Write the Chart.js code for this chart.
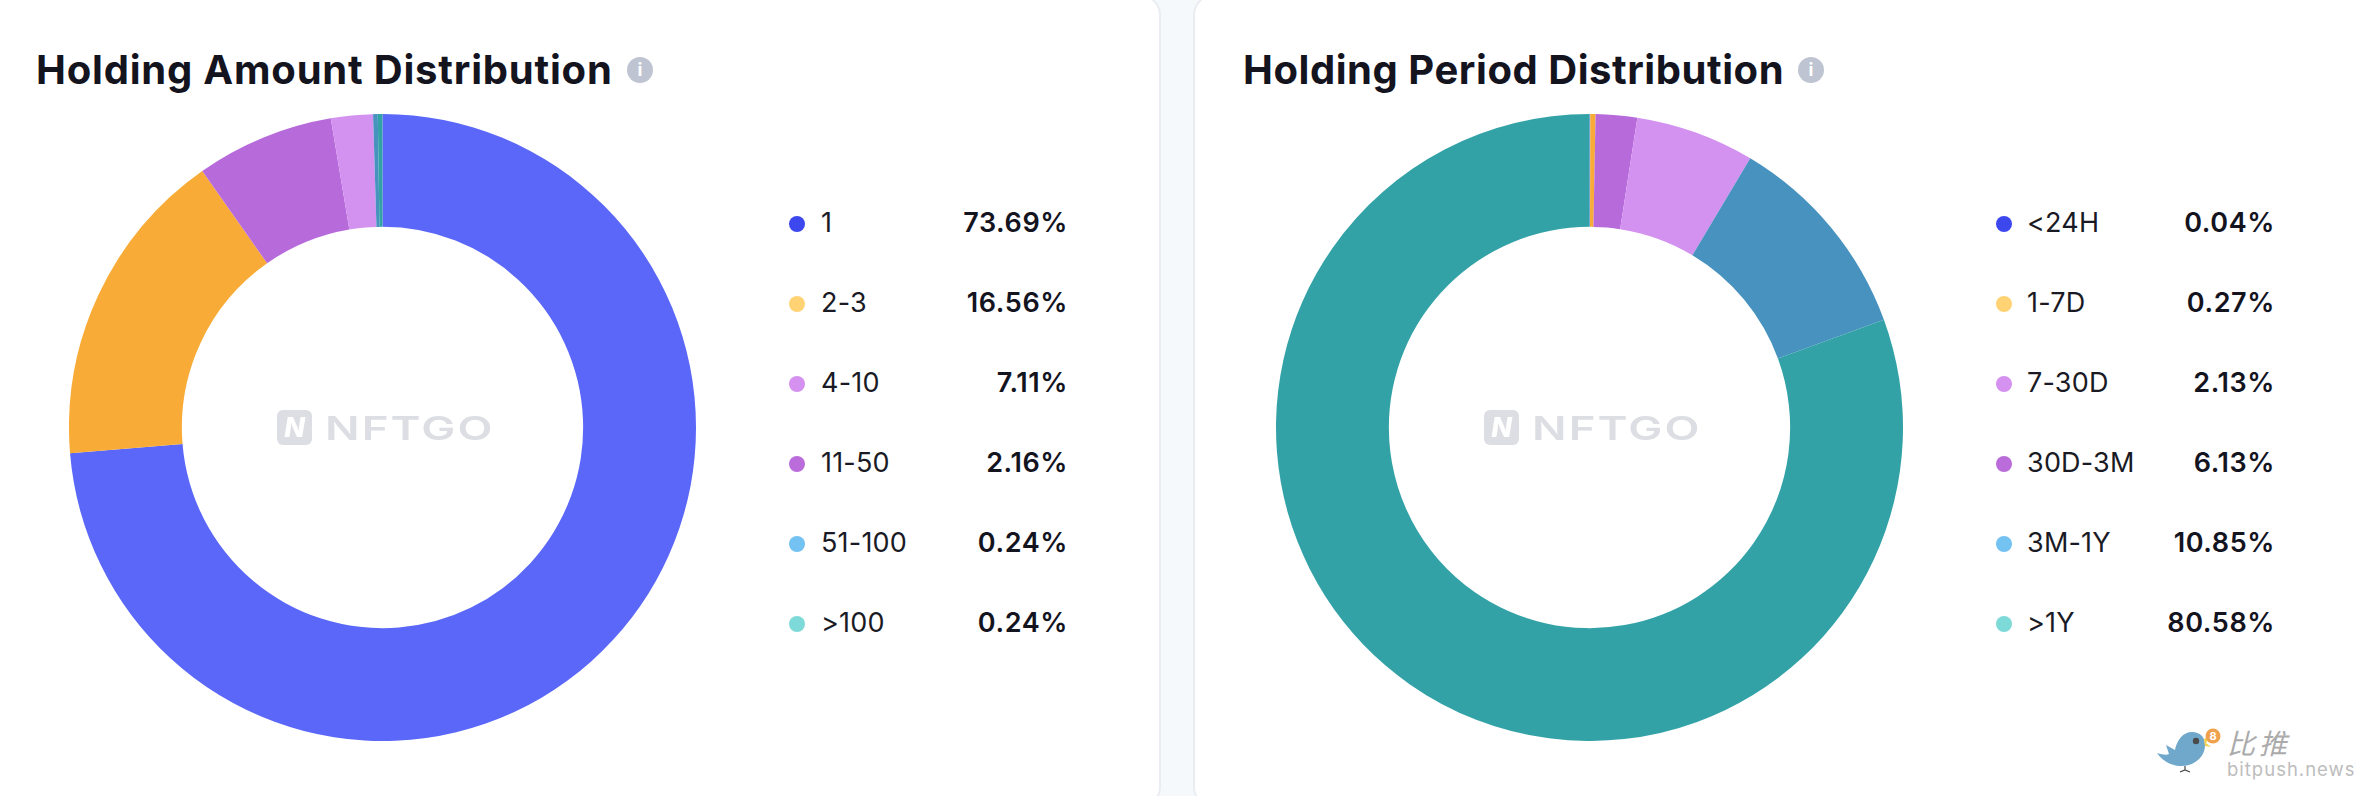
<!DOCTYPE html>
<html>
<head>
<meta charset="utf-8">
<script src="https://cdn.jsdelivr.net/npm/chart.js@4/dist/chart.umd.min.js"></script>
<style>
html,body{margin:0;padding:0;width:2354px;height:796px;overflow:hidden;background:#F6F9FB;font-family:Inter,"Noto Sans",sans-serif;color:#14141F}
.card{position:absolute;top:-6px;height:814px;background:#fff;border:2px solid #E9ECF0;border-radius:21px;box-sizing:border-box}
#cardL{left:-40px;width:1201px}
#cardR{left:1193px;width:1200px}
.title{position:absolute;top:46px;font-weight:700;font-size:40px;line-height:48px;white-space:nowrap;letter-spacing:0.8px}
.info{position:absolute;top:57px;width:26px;height:26px;border-radius:50%;background:#BFC4D2;color:#fff;font:700 18px/26px Inter;text-align:center}
canvas{position:absolute;top:114px}
.dot{position:absolute;width:16px;height:16px;border-radius:50%}
.lab{position:absolute;font-size:27px;line-height:34px;white-space:nowrap;font-weight:400;color:#1A1A25;letter-spacing:0.2px}
.val{position:absolute;font-size:27px;line-height:34px;white-space:nowrap;font-weight:600;color:#14141F;text-align:right;width:200px;letter-spacing:0.6px}
.logo{position:absolute;top:410px;width:35px;height:35px;border-radius:6px;background:#DDDEE3;color:#fff;font:italic 800 27px/35px Inter;text-align:center}
.wm{position:absolute;top:408px;font:600 33px/40px Inter;color:#DDDEE3;letter-spacing:1.5px;white-space:nowrap;transform-origin:0 50%;transform:scaleX(1.38)}
#bird{position:absolute;left:2155px;top:726px}
#bt{position:absolute;left:2227px;top:723px;font:italic 400 28px/38px "Noto Sans CJK SC";color:#ABABAB;letter-spacing:4px;white-space:nowrap}
#bs{position:absolute;left:2227px;top:758px;font:400 18.5px/22px Inter;color:#BDBDBD;letter-spacing:1px;white-space:nowrap}
</style>
</head>
<body>
<div class="card" id="cardL"></div>
<div class="card" id="cardR"></div>
<div class="title" style="left:36px">Holding Amount Distribution</div>
<div class="info" style="left:627px">i</div>
<div class="title" style="left:1243px;letter-spacing:0.55px">Holding Period Distribution</div>
<div class="info" style="left:1798px">i</div>
<canvas id="c1" width="627" height="627" style="left:69px"></canvas>
<canvas id="c2" width="627" height="627" style="left:1276px"></canvas>
<div class="logo" style="left:277px">N</div>
<div class="wm" style="left:325px">NFTGO</div>
<div class="logo" style="left:1484px">N</div>
<div class="wm" style="left:1532px">NFTGO</div>
<div id="legend"></div>
<svg id="bird" width="72" height="50" viewBox="0 0 72 50">
  <path d="M2 27 C8 29 12 29 14 28 L11 19 L20 24 C22 14 28 6 37 6 C45 6 50 11 50 19 C50 32 38 41 24 40 C14 39 7 34 2 27Z" fill="#6FA8CB"/>
  <path d="M49 13 L56 9 L51 17 L56 21 L50 20Z" fill="#F3D24E"/>
  <circle cx="41" cy="15" r="3.2" fill="#4A4A4A"/>
  <path d="M30 40 L30 44 M25 46 L30 44 L35 46" stroke="#444" stroke-width="1.2" fill="none"/>
  <circle cx="58" cy="10" r="7.5" fill="#EFA14E"/>
  <text x="58" y="14" font-family="Inter" font-weight="700" font-size="11" fill="#fff" text-anchor="middle">8</text>
</svg>
<div id="bt">比推</div>
<div id="bs">bitpush.news</div>
<script>
const amountLabels = ['1','2-3','4-10','11-50','51-100','>100'];
const amountValues = [73.69,16.56,7.11,2.16,0.24,0.24];
const periodLabels = ['<24H','1-7D','7-30D','30D-3M','3M-1Y','>1Y'];
const periodValues = [0.04,0.27,2.13,6.13,10.85,80.58];
const sliceColors = ['#5A67F8','#F8AC37','#B76BDB','#D391F0','#4792BF','#32A2A7'];
const legendColors = ['#3D47EE','#FFD374','#D591EF','#BA6CDB','#73C2F2','#7DDAD9'];

function donut(id, labels, values){
  new Chart(document.getElementById(id),{
    type:'doughnut',
    data:{labels:labels,datasets:[{data:values,backgroundColor:sliceColors,borderWidth:0,hoverOffset:0}]},
    options:{responsive:false,devicePixelRatio:1,animation:false,cutout:'64%',
      layout:{padding:0},plugins:{legend:{display:false},tooltip:{enabled:false}}}
  });
}
donut('c1',amountLabels,amountValues);
donut('c2',periodLabels,periodValues);

function legend(labels, values, dotX, labX, valRight){
  const host=document.getElementById('legend');
  labels.forEach((t,i)=>{
    const y=223.2+80*i;
    const d=document.createElement('div');d.className='dot';
    d.style.cssText=`left:${dotX-8}px;top:${y-7.5}px;background:${legendColors[i]}`;
    const l=document.createElement('div');l.className='lab';l.textContent=t;
    l.style.cssText=`left:${labX}px;top:${y-17}px`;
    const v=document.createElement('div');v.className='val';v.textContent=values[i].toFixed(2)+'%';
    v.style.cssText=`left:${valRight-200}px;top:${y-17}px`;
    host.append(d,l,v);
  });
}
legend(amountLabels,amountValues,797,821,1068);
legend(periodLabels,periodValues,2004,2027,2275);
</script>
</body>
</html>
